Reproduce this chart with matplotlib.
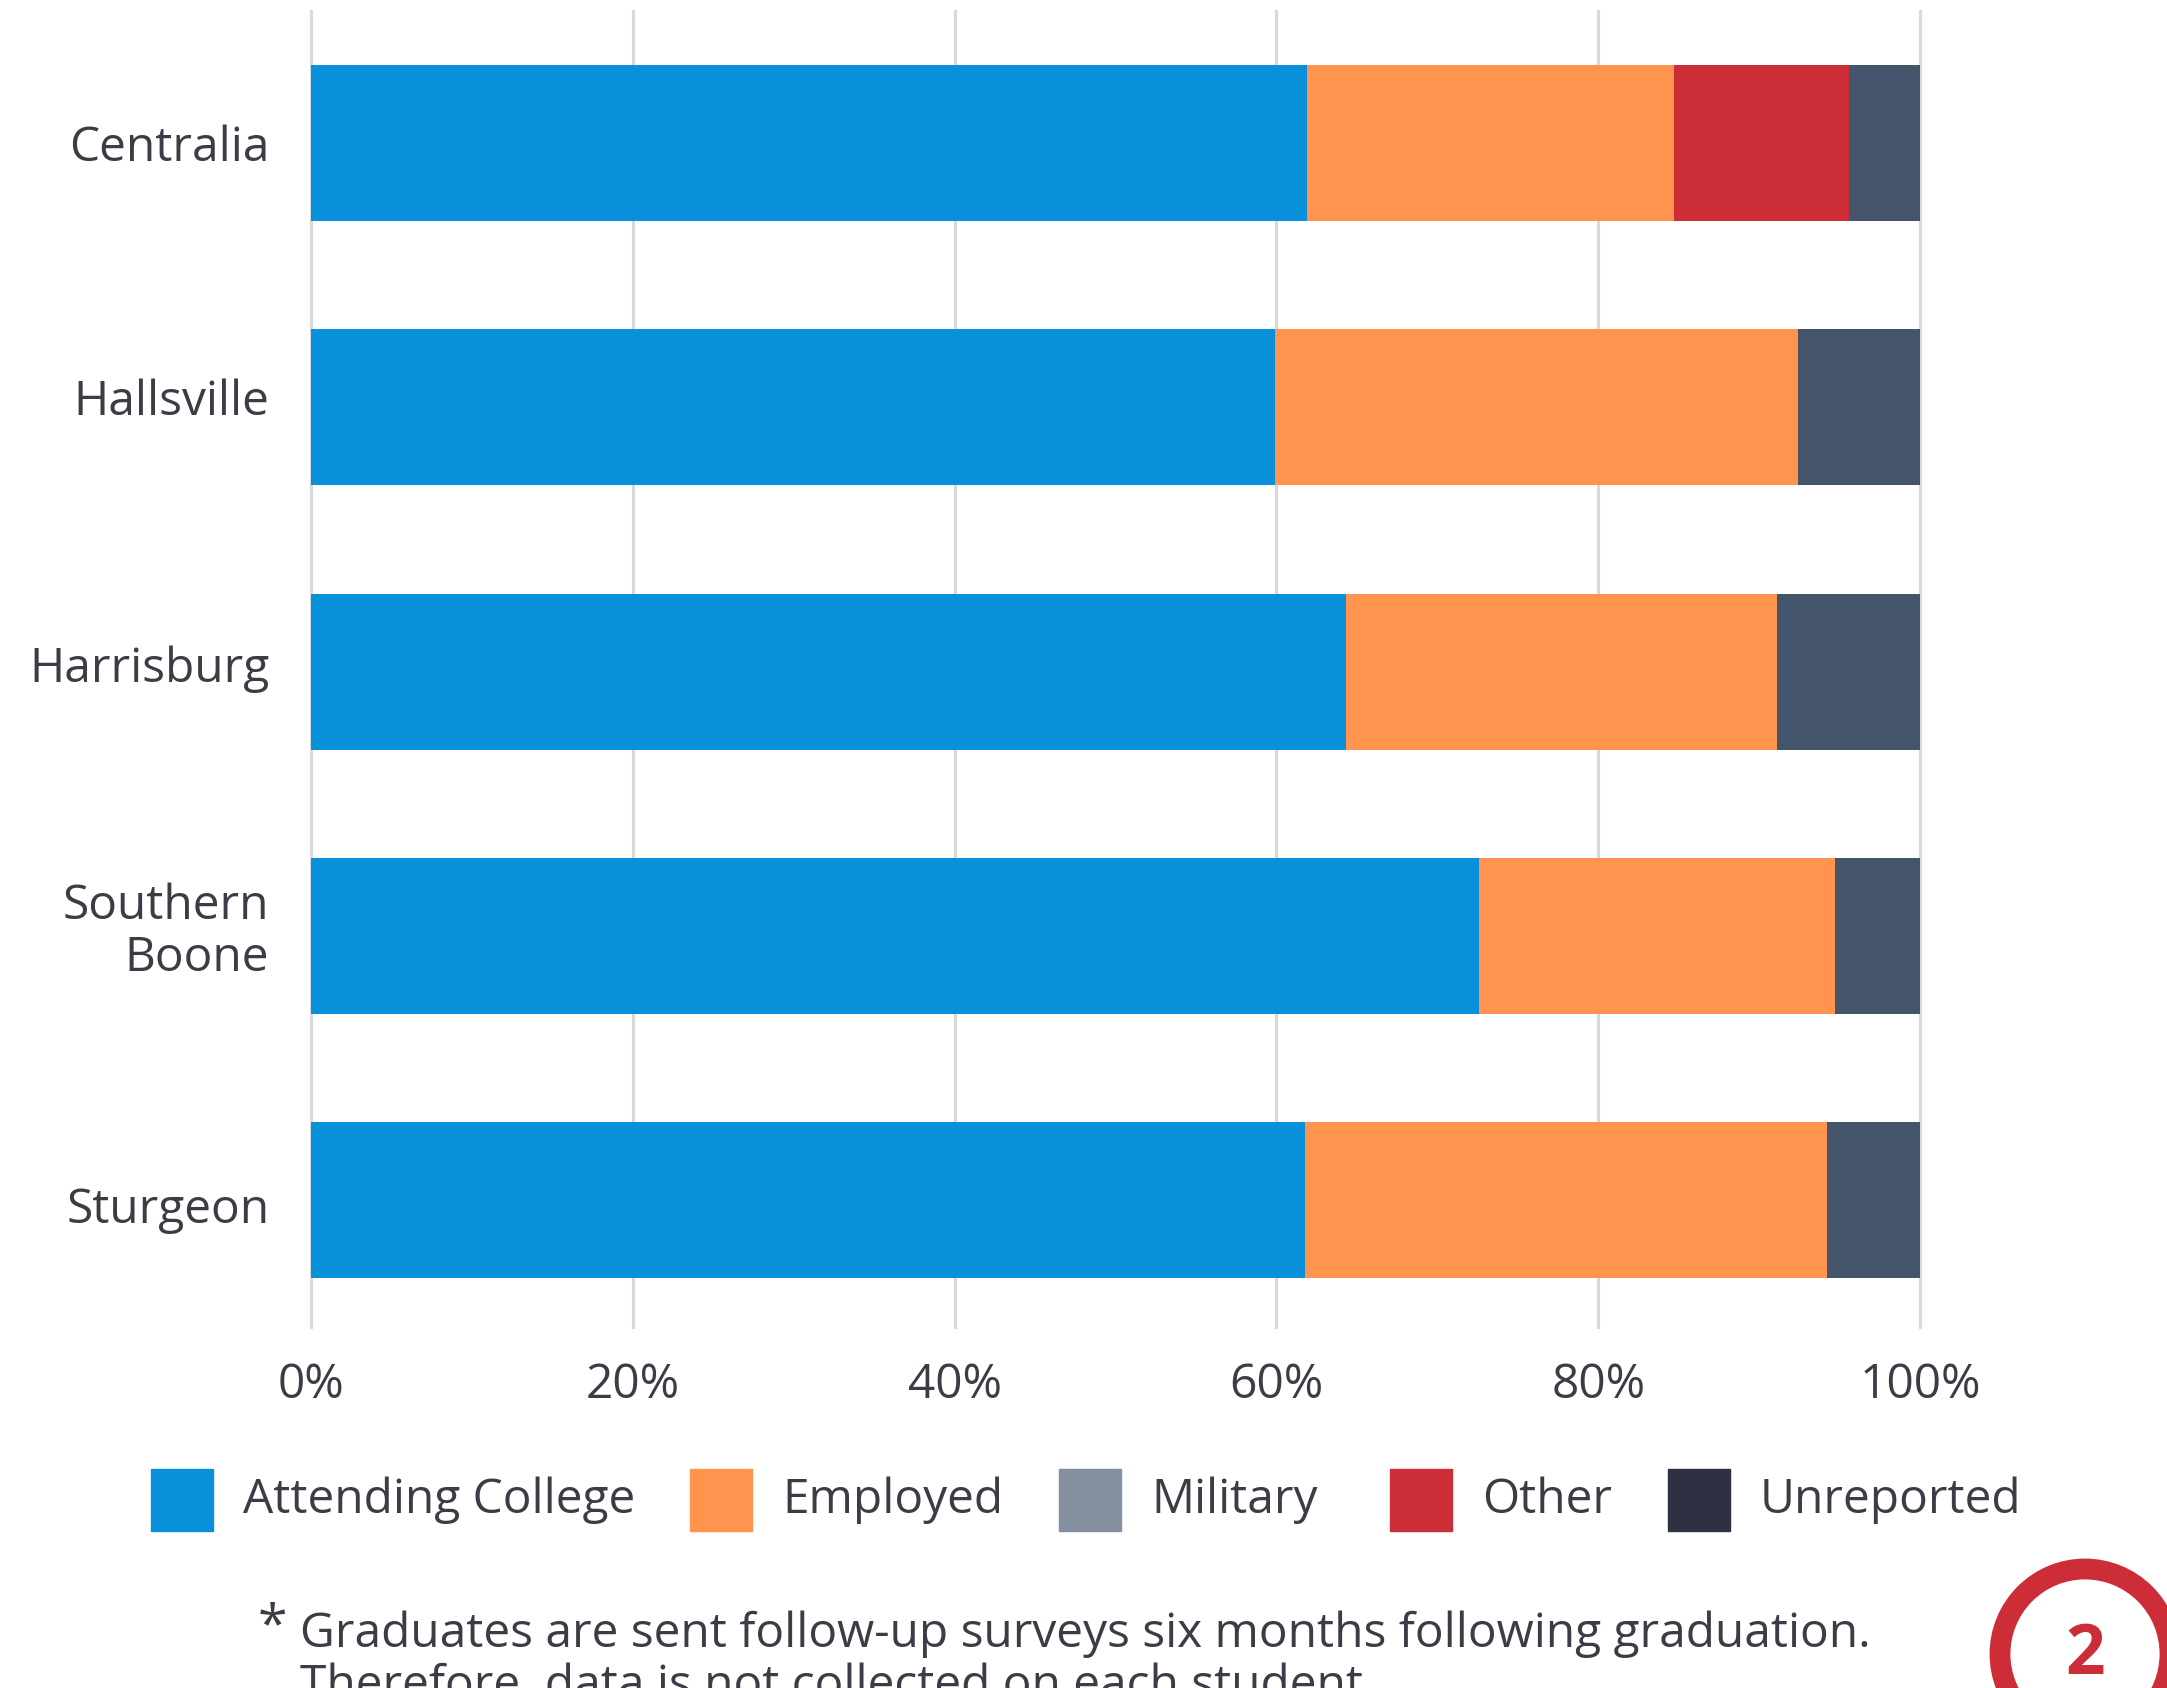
import numpy as np
import matplotlib.pyplot as plt
from matplotlib.patches import Rectangle, Circle
from matplotlib.transforms import ScaledTranslation

plt.rcParams['font.family'] = ['Open Sans', 'DejaVu Sans']

# graduate outcomes by school (% of graduates)
schools = ['Centralia', 'Hallsville', 'Harrisburg', 'Southern\nBoone', 'Sturgeon']
attending = [61.9, 59.9, 64.3, 72.6, 61.8]
employed = [22.8, 32.5, 26.8, 22.1, 32.4]
military = [0, 0, 0, 0, 0]
other = [10.9, 0, 0, 0, 0]
unreported = [4.4, 7.6, 8.9, 5.3, 5.8]

categories = ['Attending College', 'Employed', 'Military', 'Other', 'Unreported']
ticks = [0, 20, 40, 60, 80, 100]
tick_labels = ['0%', '20%', '40%', '60%', '80%', '100%']

text_col = '#3c3c46'
legend_cols = ['#0891da', '#ff944f', '#848fa0', '#cc2d37', '#2e3142']
bar_cols = ['#0891da', '#ff944f', '#848fa0', '#cc2d37', '#44546a']
fs = 34.5

W, H = 2167, 1688
fig = plt.figure(figsize=(W / 100, H / 100), dpi=100)
ax = fig.add_axes([311 / W, 1 - 1327 / H, 1609 / W, 1316 / H])

y = np.arange(len(schools))
left = np.zeros(len(schools))
for vals, col in zip([attending, employed, military, other, unreported], bar_cols):
    vals = np.array(vals, dtype=float)
    ax.barh(y, vals, left=left, height=0.59, color=col, zorder=3)
    left += vals

for t in ticks:
    ax.axvline(t, color='#d9d9d9', lw=2.2, zorder=1, clip_on=False)

ax.set_xlim(0, 100)
ax.set_ylim(4.48, -0.5)
ax.set_xticks(ticks)
ax.set_xticklabels(tick_labels)
ax.set_yticks(y)
ax.set_yticklabels(schools, ha='right', linespacing=1.1)
ax.tick_params(axis='x', length=0, pad=25, labelsize=fs, labelcolor=text_col)
ax.tick_params(axis='y', length=0, pad=30, labelsize=fs, labelcolor=text_col)
# small vertical nudges for the school names (pixels, up is positive)
nudges = [0, 11, 8, 11, -5]
for lbl, dy in zip(ax.get_yticklabels(), nudges):
    lbl.set_transform(lbl.get_transform() + ScaledTranslation(0, dy / 100, fig.dpi_scale_trans))
for s in ax.spines.values():
    s.set_visible(False)

# legend row
sq_x = [151, 690, 1059, 1390, 1668]
ly = 1500
sq = 62
for x0, lab, col in zip(sq_x, categories, legend_cols):
    fig.patches.append(Rectangle((x0 / W, 1 - (ly + sq / 2) / H), sq / W, sq / H,
                                 transform=fig.transFigure, color=col))
    fig.text((x0 + sq + 30) / W, 1 - ly / H, lab, fontsize=fs, color=text_col,
             va='center', ha='left')

# footnote
fig.text(258 / W, 1 - 1628 / H, '*', fontsize=fs + 4, color=text_col, va='center')
fig.text(300 / W, 1 - 1610 / H,
         'Graduates are sent follow-up surveys six months following graduation.\n'
         'Therefore, data is not collected on each student',
         fontsize=fs, color=text_col, va='top', ha='left', linespacing=1.15)

# page badge (drawn in inches so it stays round)
fig.patches.append(Circle((20.85, (H - 1654) / 100), 0.85, transform=fig.dpi_scale_trans,
                          fill=False, ec='#cc2d37', lw=15))
fig.text(2085 / W, 1 - 1656 / H, '2', fontsize=50, fontweight='bold', color='#cc2d37',
         ha='center', va='center')

fig.savefig('out.png', dpi=100, facecolor='white')
